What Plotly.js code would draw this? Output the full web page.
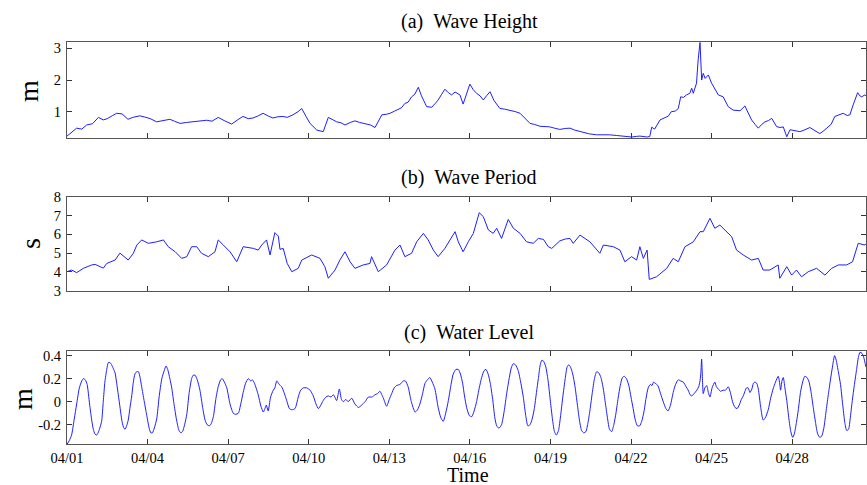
<!DOCTYPE html>
<html><head><meta charset="utf-8">
<script src="https://cdn.plot.ly/plotly-3.0.1.min.js"></script>
<style>html,body{margin:0;padding:0;background:#fff}</style>
</head><body><div id="chart" style="width:867px;height:485px"></div>
<script>
// time in days since 04/01 00:00
var tickDays = [0,3,6,9,12,15,18,21,24,27];
var tickLabels = ['04/01','04/04','04/07','04/10','04/13','04/16','04/19','04/22','04/25','04/28'];

var heightDays = [0,0.1,0.36,0.55,0.73,0.95,1.17,1.35,1.5,1.7,1.85,2.05,2.27,2.45,2.71,2.9,3.1,3.34,3.6,3.83,4.0,4.21,4.45,4.69,4.95,5.2,5.4,5.63,5.85,6.13,6.35,6.55,6.75,6.92,7.1,7.3,7.5,7.67,7.85,8.04,8.2,8.41,8.6,8.74,8.9,9.05,9.3,9.54,9.73,9.9,10.04,10.2,10.35,10.55,10.72,10.9,11.1,11.3,11.47,11.72,11.9,12.03,12.2,12.33,12.45,12.58,12.7,12.83,12.95,13.08,13.2,13.39,13.58,13.7,13.82,13.95,14.07,14.2,14.32,14.45,14.63,14.75,14.88,15.0,15.12,15.25,15.38,15.5,15.62,15.75,15.9,16.12,16.3,16.49,16.7,16.87,17.05,17.24,17.4,17.61,17.8,17.98,18.15,18.35,18.55,18.73,18.9,19.1,19.2,19.45,19.72,20.0,20.2,20.45,20.7,21.02,21.2,21.33,21.6,21.7,21.77,21.88,22.08,22.25,22.39,22.5,22.65,22.76,22.85,22.95,23.07,23.19,23.26,23.32,23.38,23.44,23.5,23.57,23.63,23.69,23.76,23.88,24.0,24.12,24.25,24.43,24.62,24.8,25.06,25.24,25.35,25.49,25.62,25.74,25.87,25.99,26.12,26.24,26.42,26.55,26.67,26.8,26.92,27.1,27.29,27.45,27.66,27.85,28.03,28.15,28.28,28.45,28.59,28.75,28.9,29.05,29.15,29.27,29.44,29.52,29.59,29.71,29.75];
var heightVals = [0.23,0.3,0.48,0.45,0.58,0.62,0.82,0.74,0.78,0.88,0.95,0.93,0.76,0.82,0.87,0.83,0.78,0.68,0.72,0.76,0.7,0.63,0.66,0.68,0.7,0.73,0.7,0.82,0.72,0.61,0.74,0.85,0.78,0.8,0.86,0.95,0.86,0.8,0.84,0.85,0.82,0.9,1.0,1.1,0.85,0.63,0.42,0.37,0.82,0.74,0.68,0.65,0.58,0.66,0.71,0.66,0.61,0.58,0.5,0.9,0.92,0.95,1.02,1.07,1.12,1.26,1.3,1.47,1.55,1.77,1.5,1.16,1.14,1.25,1.37,1.55,1.71,1.6,1.53,1.62,1.53,1.24,1.55,1.87,1.7,1.58,1.5,1.37,1.5,1.63,1.35,1.1,1.08,1.05,1.0,0.95,0.8,0.63,0.6,0.54,0.53,0.52,0.48,0.44,0.47,0.48,0.42,0.37,0.34,0.3,0.27,0.28,0.27,0.25,0.23,0.2,0.22,0.23,0.2,0.22,0.51,0.45,0.74,0.8,0.86,1.0,1.02,1.1,1.47,1.45,1.53,1.58,1.74,1.58,1.79,1.9,2.63,3.19,2.0,2.21,2.05,2.16,1.9,1.7,1.53,1.47,1.16,1.05,1.03,1.18,1.0,0.74,0.6,0.48,0.6,0.68,0.72,0.79,0.53,0.5,0.52,0.21,0.43,0.4,0.37,0.42,0.5,0.4,0.31,0.38,0.48,0.6,0.85,0.9,0.95,0.88,0.9,1.21,1.6,1.5,1.47,1.53,1.5];

var periodDays = [0,0.17,0.36,0.61,0.92,1.05,1.23,1.35,1.48,1.79,1.97,2.16,2.28,2.47,2.6,2.78,3.03,3.34,3.59,3.77,4.03,4.27,4.46,4.64,4.83,5.01,5.26,5.51,5.63,5.82,6.07,6.32,6.56,6.94,7.12,7.25,7.43,7.56,7.74,7.87,7.93,8.05,8.2,8.37,8.61,8.74,9.11,9.42,9.6,9.73,9.98,10.16,10.35,10.54,10.72,11.03,11.28,11.34,11.59,11.9,12.21,12.4,12.58,12.83,13.02,13.27,13.45,13.64,13.82,14.07,14.26,14.45,14.57,14.75,14.94,15.13,15.35,15.5,15.69,15.87,16.0,16.18,16.43,16.62,16.87,17.11,17.36,17.55,17.74,17.92,18.05,18.35,18.55,18.73,18.85,19.1,19.47,19.84,19.97,20.34,20.59,20.77,21.02,21.21,21.33,21.46,21.6,21.68,21.95,22.33,22.57,22.76,23.01,23.32,23.57,23.69,23.94,24.12,24.31,24.5,24.75,24.93,25.18,25.49,25.74,25.92,26.17,26.48,26.54,26.8,26.98,27.16,27.35,27.6,27.91,28.22,28.47,28.72,29.03,29.25,29.46,29.71,29.75];
var periodVals = [4.01,4.1,3.96,4.19,4.37,4.4,4.28,4.2,4.45,4.63,5.0,4.77,4.63,4.99,5.43,5.7,5.52,5.6,5.7,5.34,5.07,4.72,4.81,5.34,5.34,4.99,4.81,5.07,5.7,5.43,5.07,4.54,5.34,5.25,5.16,5.43,5.7,4.9,6.09,5.9,5.2,5.25,4.45,4.01,4.19,4.63,4.9,4.72,4.28,3.66,4.1,4.63,5.07,4.54,4.19,4.37,4.45,4.81,4.01,4.37,5.16,5.43,4.81,4.99,5.6,6.05,5.7,5.16,4.81,5.25,5.7,6.14,5.6,5.07,5.6,6.05,7.15,6.94,6.23,6.05,6.32,5.78,6.79,6.32,6.05,5.6,5.52,5.78,5.73,5.34,5.25,5.65,5.75,5.78,5.52,5.96,5.6,4.99,5.43,5.34,5.16,4.54,4.81,4.63,5.34,4.72,5.16,3.6,3.74,4.19,4.72,4.54,5.34,5.6,6.14,6.14,6.85,6.32,6.49,6.23,5.87,5.16,4.9,4.63,4.72,4.1,4.1,4.37,3.66,4.28,3.83,4.1,3.74,4.01,4.19,3.83,4.19,4.37,4.37,4.54,5.52,5.43,5.5];

var levelDays = [0,0.08,0.17,0.27,0.36,0.46,0.55,0.61,0.68,0.75,0.84,0.92,0.98,1.04,1.1,1.16,1.22,1.29,1.35,1.41,1.48,1.54,1.6,1.66,1.72,1.79,1.85,1.91,1.98,2.04,2.1,2.16,2.22,2.28,2.34,2.41,2.47,2.53,2.59,2.66,2.72,2.78,2.87,2.97,3.06,3.12,3.18,3.25,3.34,3.43,3.53,3.62,3.69,3.75,3.83,3.9,3.99,4.08,4.17,4.24,4.3,4.38,4.46,4.55,4.64,4.7,4.77,4.85,4.95,5.05,5.14,5.22,5.3,5.37,5.45,5.54,5.63,5.72,5.78,5.86,5.95,6.07,6.19,6.28,6.38,6.47,6.56,6.65,6.75,6.84,6.9,6.98,7.12,7.22,7.31,7.37,7.42,7.49,7.58,7.68,7.74,7.81,7.9,7.99,8.08,8.18,8.28,8.37,8.49,8.61,8.7,8.8,8.92,9.05,9.17,9.27,9.36,9.45,9.54,9.64,9.73,9.83,9.92,10.04,10.14,10.22,10.29,10.38,10.47,10.6,10.72,10.85,10.97,11.1,11.22,11.35,11.47,11.56,11.65,11.78,11.9,12.0,12.09,12.18,12.27,12.4,12.52,12.6,12.7,12.82,12.96,13.05,13.14,13.24,13.33,13.42,13.51,13.6,13.7,13.82,13.92,14.01,14.1,14.2,14.3,14.38,14.48,14.57,14.65,14.73,14.8,14.88,14.98,15.07,15.16,15.25,15.35,15.44,15.53,15.6,15.68,15.76,15.85,15.93,16.0,16.08,16.18,16.28,16.37,16.47,16.55,16.62,16.7,16.8,16.9,16.99,17.08,17.16,17.24,17.32,17.4,17.48,17.55,17.62,17.68,17.75,17.83,17.92,18.0,18.08,18.15,18.22,18.3,18.38,18.46,18.55,18.62,18.68,18.75,18.83,18.91,19.0,19.08,19.16,19.24,19.32,19.4,19.48,19.56,19.64,19.72,19.8,19.88,19.97,20.05,20.13,20.2,20.28,20.36,20.44,20.52,20.6,20.68,20.75,20.83,20.92,21.0,21.08,21.16,21.24,21.32,21.4,21.48,21.56,21.64,21.72,21.78,21.84,21.9,22.0,22.1,22.2,22.3,22.38,22.47,22.57,22.66,22.76,22.85,22.95,23.05,23.13,23.2,23.26,23.35,23.45,23.52,23.57,23.6,23.63,23.66,23.69,23.75,23.82,23.88,23.94,24.02,24.12,24.18,24.25,24.33,24.43,24.52,24.62,24.7,24.78,24.87,24.95,25.03,25.11,25.18,25.3,25.36,25.43,25.5,25.56,25.61,25.68,25.74,25.83,25.92,26.0,26.11,26.2,26.29,26.38,26.48,26.53,26.57,26.62,26.67,26.73,26.8,26.88,26.95,27.02,27.08,27.16,27.23,27.31,27.39,27.47,27.55,27.62,27.7,27.78,27.87,27.95,28.03,28.1,28.18,28.26,28.34,28.42,28.5,28.58,28.64,28.72,28.8,28.88,28.96,29.03,29.1,29.16,29.24,29.32,29.4,29.47,29.53,29.6,29.66,29.72,29.75];
var levelVals = [-0.37,-0.34,-0.29,-0.15,-0.02,0.12,0.18,0.2,0.19,0.15,-0.02,-0.16,-0.24,-0.28,-0.29,-0.27,-0.23,-0.17,0.0,0.17,0.28,0.34,0.34,0.32,0.29,0.25,0.16,0.06,-0.06,-0.16,-0.22,-0.24,-0.21,-0.16,-0.06,0.05,0.17,0.24,0.26,0.26,0.21,0.13,0.01,-0.12,-0.23,-0.27,-0.27,-0.23,-0.15,0.04,0.2,0.27,0.31,0.28,0.2,0.12,-0.03,-0.16,-0.25,-0.27,-0.26,-0.2,-0.11,0.08,0.2,0.23,0.23,0.19,0.1,-0.05,-0.16,-0.2,-0.21,-0.19,-0.13,0.02,0.13,0.19,0.2,0.17,0.12,-0.02,-0.1,-0.11,-0.1,-0.02,0.08,0.16,0.2,0.18,0.19,0.16,0.06,-0.04,-0.09,-0.06,-0.03,-0.08,0.04,0.1,0.12,0.18,0.15,0.13,0.08,0.01,-0.06,-0.07,-0.06,0.04,0.1,0.12,0.12,0.1,0.05,-0.02,-0.06,-0.03,0.01,0.04,0.05,0.04,0.06,0.01,0.11,0.02,0,0.02,0,0.03,-0.02,-0.05,-0.03,0,0.04,0.04,0.06,0.07,0.09,0.03,-0.04,0.02,0.07,0.12,0.14,0.15,0.18,0.18,0.13,0.0,-0.09,-0.07,-0.02,0.07,0.16,0.19,0.21,0.17,0.11,-0.05,-0.14,-0.17,-0.1,0.01,0.15,0.24,0.28,0.28,0.24,0.16,0.05,-0.05,-0.12,-0.13,-0.08,0.0,0.12,0.21,0.27,0.28,0.24,0.16,0.02,-0.14,-0.21,-0.23,-0.2,-0.08,0.07,0.21,0.3,0.33,0.32,0.27,0.16,0.04,-0.12,-0.21,-0.2,-0.15,-0.06,0.08,0.2,0.32,0.36,0.35,0.3,0.17,0.0,-0.16,-0.26,-0.29,-0.25,-0.12,0.04,0.2,0.3,0.32,0.3,0.24,0.14,-0.02,-0.16,-0.25,-0.27,-0.26,-0.18,-0.06,0.08,0.2,0.26,0.25,0.21,0.11,-0.02,-0.15,-0.24,-0.26,-0.2,-0.1,0.03,0.14,0.21,0.22,0.2,0.14,0.04,-0.06,-0.16,-0.21,-0.21,-0.17,-0.09,0.03,0.12,0.15,0.14,0.17,0.16,0.14,0.07,0.0,-0.06,-0.08,-0.03,0.08,0.15,0.19,0.18,0.17,0.13,0.1,0.06,0.05,0.07,0.1,0.13,0.18,0.25,0.37,0.2,0.07,0.12,0.14,0.08,0.04,0.12,0.17,0.13,0.11,0.09,0.1,0.1,0.13,0.08,0.0,-0.05,-0.06,-0.03,0.02,0.05,0.12,0.12,0.08,0.11,0.16,0.17,0.16,0.11,-0.05,-0.16,-0.14,-0.07,0.03,0.11,0.17,0.22,0.17,0.1,0.18,0.21,0.12,0.01,-0.15,-0.26,-0.31,-0.28,-0.18,-0.07,0.08,0.17,0.22,0.21,0.18,0.09,-0.04,-0.18,-0.28,-0.31,-0.3,-0.23,-0.09,0.05,0.18,0.3,0.4,0.36,0.26,0.15,-0.02,-0.18,-0.25,-0.24,-0.15,0.01,0.15,0.28,0.39,0.43,0.42,0.39,0.33,0.3];

var titles = ['(a)\u00a0\u00a0Wave Height','(b)\u00a0\u00a0Wave Period','(c)\u00a0\u00a0Water Level'];
var yUnits = ['m','s','m'];

var font = '"Liberation Serif","Times New Roman",Times,serif';
var lineColor = 'rgb(30,30,255)';
var H = 485, L = 67, PW = 799;
function py(p){ return 1 - p/H; }
function px(p){ return (p - L)/PW; }

var traces = [
  {x: heightDays, y: heightVals, xaxis:'x', yaxis:'y', type:'scatter', mode:'lines', line:{color:lineColor, width:1}},
  {x: periodDays, y: periodVals, xaxis:'x2', yaxis:'y2', type:'scatter', mode:'lines', line:{color:lineColor, width:1}},
  {x: levelDays, y: levelVals, xaxis:'x3', yaxis:'y3', type:'scatter', mode:'lines', line:{color:lineColor, width:1, shape:'spline', smoothing:0.6}}
];

function xa(showLabels, anchor){
  return {range:[0,29.75], anchor:anchor, tickmode:'array', tickvals:tickDays, ticktext:tickLabels,
    showticklabels:showLabels, ticks:'inside', ticklen:5, tickcolor:'#333', mirror:'ticks',
    showline:true, linecolor:'#555', linewidth:1, showgrid:false, zeroline:false,
    tickfont:{family:font, size:14.5, color:'#000'}, fixedrange:true};
}
function ya(range, vals, texts, dom, anchor){
  return {range:range, domain:dom, anchor:anchor, tickmode:'array', tickvals:vals, ticktext:texts,
    ticks:'inside', ticklen:5, tickcolor:'#333', mirror:'ticks', showline:true, linecolor:'#555', linewidth:1,
    showgrid:false, zeroline:false, tickfont:{family:font, size:14.5, color:'#000'}, ticklabelstandoff:2, fixedrange:true};
}
function ann(text, x, y, size, angle){
  return {text:text, xref:'paper', yref:'paper', x:px(x), y:py(y), xanchor:'center', yanchor:'middle',
    textangle:angle||0, showarrow:false, font:{family:font, size:size, color:'#000'}};
}

var layout = {
  width:867, height:485, margin:{l:L, r:1, t:0, b:0}, showlegend:false,
  paper_bgcolor:'#fff', plot_bgcolor:'#fff',
  xaxis: xa(false,'y'), xaxis2: xa(false,'y2'), xaxis3: xa(true,'y3'),
  yaxis: ya([0.16,3.19],[1,2,3],['1','2','3'],[py(138.3),py(42.3)],'x'),
  yaxis2: ya([3,8],[3,4,5,6,7,8],['3','4','5','6','7','8'],[py(290.7),py(196.7)],'x2'),
  yaxis3: ya([-0.37,0.44],[-0.2,0,0.2,0.4],['-0.2','0','0.2','0.4'],[py(444.3),py(351)],'x3'),
  annotations: [
    ann(titles[0], 469, 22, 20),
    ann(titles[1], 469, 177, 20),
    ann(titles[2], 469, 332, 20),
    ann(yUnits[0], 28, 91, 28, -90),
    ann(yUnits[1], 30, 244, 28, -90),
    ann(yUnits[2], 22, 399, 28, -90),
    ann('Time', 468, 475, 20)
  ]
};
Plotly.newPlot('chart', traces, layout, {displayModeBar:false, staticPlot:true});
</script></body></html>
